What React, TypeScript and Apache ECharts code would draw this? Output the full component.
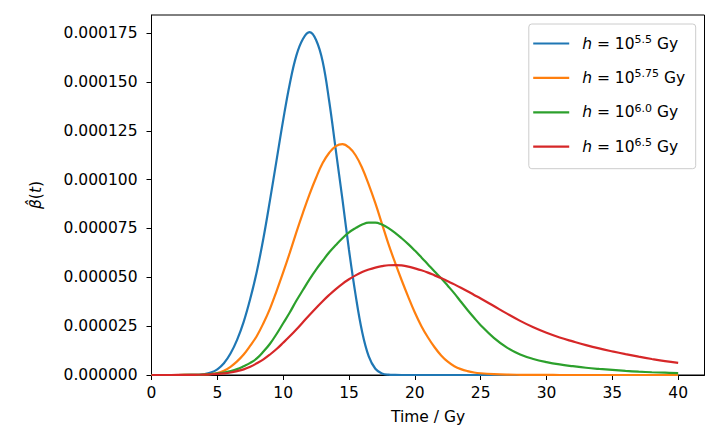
import React, { useEffect, useRef } from "react";
import * as echarts from "echarts";

// Time values (Gy)
const T = [
  0, 1, 2, 3, 3.5, 4, 4.5, 5, 5.5, 6, 6.5, 7, 7.5, 8, 8.5, 9, 9.5, 10, 10.5, 11, 11.5, 12, 12.5,
  13, 13.5, 14, 14.5, 15, 15.5, 16, 16.5, 17, 17.5, 18, 18.5, 19, 19.5, 20, 20.5, 21, 21.5, 22,
  22.5, 23, 23.5, 24, 24.5, 25, 26, 27, 28, 29, 30, 31, 32, 33, 34, 35, 36, 37, 38, 39, 40,
];

// beta-hat(t) values, in units of 1e-5
const BLUE = [
  0, 0, 0, 0.003,
  0.01, 0.04, 0.12, 0.29, 0.6, 1.1, 1.8, 2.72, 3.9, 5.3,
  7.0, 8.95, 11.0, 13.05, 14.9, 16.35, 17.2, 17.55, 17.15, 16.05,
  14.0, 11.5, 9.0, 6.4, 4.1, 2.2, 0.95, 0.32, 0.08, 0.015,
  0.003, 0, 0, 0, 0, 0, 0, 0, 0, 0,
  0, 0, 0, 0,
  0, 0, 0, 0, 0, 0, 0, 0, 0, 0, 0, 0, 0, 0, 0,
];
const ORANGE = [
  0, 0, 0, 0.005,
  0.01, 0.025, 0.05, 0.1, 0.22, 0.42, 0.7, 1.05, 1.5, 2.0,
  2.65, 3.4, 4.3, 5.25, 6.25, 7.3, 8.3, 9.25, 10.1, 10.85,
  11.38, 11.72, 11.82, 11.65, 11.25, 10.6, 9.75, 8.8, 7.75, 6.7,
  5.75, 4.85, 4.0, 3.2, 2.5, 1.92, 1.42, 1.0, 0.68, 0.45,
  0.3, 0.2, 0.13, 0.09,
  0.045, 0.02, 0.01, 0.005, 0.002, 0.001, 0, 0, 0, 0, 0, 0, 0, 0, 0,
];
const GREEN = [
  0, 0, 0, 0.005,
  0.01, 0.025, 0.045, 0.08, 0.13, 0.2, 0.3, 0.45, 0.62, 0.85,
  1.2, 1.6, 2.1, 2.65, 3.2, 3.8, 4.35, 4.9, 5.4, 5.85,
  6.28, 6.65, 7.0, 7.3, 7.52, 7.7, 7.8, 7.8, 7.7, 7.52,
  7.28, 7.0, 6.7, 6.37, 6.02, 5.66, 5.3, 4.95, 4.57, 4.18,
  3.75, 3.33, 2.93, 2.55,
  1.9, 1.4, 1.05, 0.82, 0.66, 0.54, 0.45, 0.37, 0.31, 0.26, 0.21, 0.17, 0.14, 0.12, 0.1,
];
const RED = [
  0, 0, 0.002, 0.006,
  0.012, 0.02, 0.035, 0.055, 0.085, 0.13, 0.2, 0.29, 0.42, 0.6,
  0.8, 1.05, 1.33, 1.65, 1.98, 2.33, 2.7, 3.07, 3.43, 3.78,
  4.1, 4.4, 4.67, 4.9, 5.1, 5.27, 5.4, 5.5, 5.57, 5.62,
  5.63, 5.61, 5.55, 5.46, 5.36, 5.24, 5.1, 4.96, 4.8, 4.64,
  4.47, 4.29, 4.1, 3.92,
  3.53, 3.14, 2.77, 2.44, 2.16, 1.92, 1.72, 1.53, 1.36, 1.21, 1.07, 0.94, 0.82, 0.71, 0.62,
];
const UNIT = 1e-5;

const SERIES_NAMES = ["h = 10^5.5 Gy", "h = 10^5.75 Gy", "h = 10^6.0 Gy", "h = 10^6.5 Gy"];
const H_EXPONENTS = ["5.5", "5.75", "6.0", "6.5"];
const COLORS = ["#1f77b4", "#ff7f0e", "#2ca02c", "#d62728"];

const X_TICKS = [0, 5, 10, 15, 20, 25, 30, 35, 40];
const Y_TICKS = [0, 0.000025, 0.00005, 0.000075, 0.0001, 0.000125, 0.00015, 0.000175];

const X_LABEL = "Time / Gy";

export default function App() {
  const ref = useRef<HTMLDivElement>(null);

  useEffect(() => {
    if (!ref.current) return;
    const chart = echarts.init(ref.current, null, { renderer: "svg" });
    const font = "DejaVu Sans";
    const fs = 15.5;
    const allValues = [BLUE, ORANGE, GREEN, RED];

    const series = allValues.map((vals, i) => ({
      name: SERIES_NAMES[i],
      type: "line",
      data: T.map((t, j) => [t, vals[j] * UNIT]),
      showSymbol: false,
      smooth: 0.4,
      clip: true,
      lineStyle: { width: 2.2, color: COLORS[i] },
      itemStyle: { color: COLORS[i] },
      emphasis: { disabled: true },
    }));

    chart.setOption({
      animation: false,
      backgroundColor: "#ffffff",
      textStyle: { fontFamily: font },
      grid: {
        left: 151.5,
        right: 4.5,
        top: 15,
        bottom: 55,
        show: true,
        borderColor: "#000",
        borderWidth: 1,
        backgroundColor: "transparent",
      },
      xAxis: {
        type: "value",
        min: 0,
        max: 42,
        interval: 5,
        name: X_LABEL,
        nameLocation: "middle",
        nameGap: 34,
        nameTextStyle: { fontSize: fs, color: "#000", fontFamily: font },
        axisLine: { onZero: false, lineStyle: { color: "#000", width: 1 } },
        axisTick: { show: true, length: 5, lineStyle: { color: "#000", width: 1 }, customValues: X_TICKS },
        axisLabel: { customValues: X_TICKS, fontSize: fs, color: "#000", margin: 10, fontFamily: font },
        splitLine: { show: false },
      },
      yAxis: {
        type: "value",
        min: 0,
        max: 0.0001843,
        interval: 0.000025,
        name: "{i|β̂}({i|t})",
        nameLocation: "middle",
        nameRotate: 90,
        nameGap: 108,
        nameTextStyle: {
          fontSize: fs,
          color: "#000",
          fontFamily: font,
          rich: { i: { fontStyle: "italic", fontSize: fs, fontFamily: font, color: "#000" } },
        },
        axisLine: { show: true, onZero: false, lineStyle: { color: "#000", width: 1 } },
        axisTick: { show: true, length: 5, lineStyle: { color: "#000", width: 1 }, customValues: Y_TICKS },
        axisLabel: {
          customValues: Y_TICKS,
          fontSize: fs,
          color: "#000",
          margin: 14,
          fontFamily: font,
          formatter: (v: number) => v.toFixed(6),
        },
        splitLine: { show: false },
      },
      legend: {
        orient: "vertical",
        right: 13.3,
        top: 24,
        padding: [10, 10.5, 12.5, 4.4],
        itemGap: 15.4,
        itemWidth: 36,
        itemHeight: 2.2,
        icon: "rect",
        backgroundColor: "rgba(255,255,255,0.8)",
        borderColor: "#cccccc",
        borderWidth: 1,
        borderRadius: 3,
        data: SERIES_NAMES.map((n, i) => ({ name: n, itemStyle: { color: COLORS[i] } })),
        formatter: (name: string) => {
          const idx = SERIES_NAMES.indexOf(name);
          return `{i|h}{n| = 10}{s|${H_EXPONENTS[idx]}}{n| Gy}`;
        },
        textStyle: {
          fontFamily: font,
          fontSize: fs,
          color: "#000",
          padding: [0, 0, 0, 8],
          rich: {
            i: { fontStyle: "italic", fontSize: fs, fontFamily: font, color: "#000", lineHeight: 22 },
            n: { fontSize: fs, fontFamily: font, color: "#000", lineHeight: 22 },
            s: { fontSize: 11, fontFamily: font, color: "#000", lineHeight: 14, padding: [0, 0, 8, 0] },
          },
        },
      },
      series,
    });

    return () => {
      chart.dispose();
    };
  }, []);

  return (
    <div
      ref={ref}
      style={{ position: "fixed", left: 0, top: 0, width: 709, height: 430, background: "#fff" }}
    />
  );
}
